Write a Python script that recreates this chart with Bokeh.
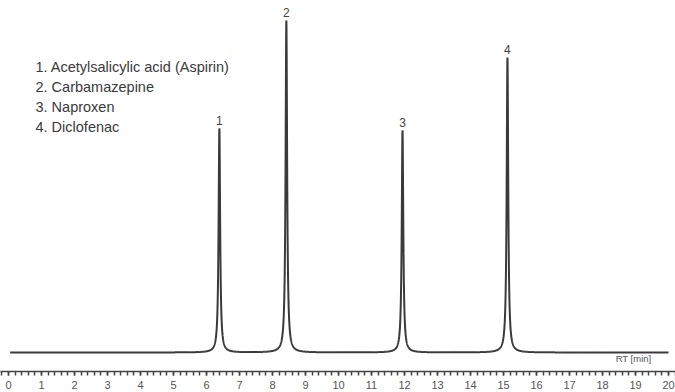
import numpy as np
from bokeh.plotting import figure
from bokeh.models import SingleIntervalTicker, Label
from bokeh.embed import file_html
from bokeh.resources import INLINE
from bokeh.core.properties import value

# Peak table
peak_ids = ["1", "2", "3", "4"]
peak_names = ["Acetylsalicylic acid (Aspirin)", "Carbamazepine", "Naproxen", "Diclofenac"]
retention_times = [6.39, 8.42, 11.94, 15.12]   # min
peak_heights = [224, 332, 222, 295]            # arbitrary detector units
peak_widths = [0.028, 0.028, 0.028, 0.028]     # Lorentzian half-width, min

rt_start, rt_end = 0.05, 20.0

# Build the trace from the peak table
rt = np.linspace(rt_start, rt_end, 12000)
signal = np.zeros_like(rt)
for c, h, w in zip(retention_times, peak_heights, peak_widths):
    signal += h / (1.0 + ((rt - c) / w) ** 2)

p = figure(width=675, height=392, output_backend="svg", toolbar_location=None,
           x_range=(-8 / 33, 20 + 7 / 33), y_range=(-19, 352),
           y_axis_location=None, min_border_left=0, min_border_right=0,
           min_border_top=0, min_border_bottom=21)
p.outline_line_color = None
p.grid.visible = False
p.background_fill_color = "white"
p.border_fill_color = "white"

p.line(rt, signal, line_color="#3a3a3a", line_width=2)

# peak number labels
p.text(x=retention_times, y=[h + 4 for h in peak_heights], text=peak_ids,
       text_align="center", text_baseline="bottom", text_font=value("Liberation Sans"),
       text_font_size="12px", text_color="#444444")

# legend text block
for i, (pid, name) in enumerate(zip(peak_ids, peak_names)):
    p.add_layout(Label(x=35, y=392 - 21 - 66 - 20 * i, x_units="screen", y_units="screen",
                       text=f"{pid}. {name}", text_font="Liberation Sans",
                       text_font_size="14.5px", text_color="#3a3a3a",
                       text_baseline="middle", text_align="left"))

p.add_layout(Label(x=18.94, y=-6, text="RT [min]", text_font="Liberation Sans",
                   text_font_size="9.5px", text_color="#555555",
                   text_align="center", text_baseline="middle"))

ax = p.xaxis[0]
ax.ticker = SingleIntervalTicker(interval=1, num_minor_ticks=5)
ax.axis_line_color = "#444444"
ax.axis_line_width = 1.5
ax.major_tick_line_color = "#444444"
ax.minor_tick_line_color = "#444444"
ax.major_tick_line_width = 1.5
ax.minor_tick_line_width = 1.5
ax.major_tick_in = 0
ax.major_tick_out = 4
ax.minor_tick_in = 0
ax.minor_tick_out = 4
ax.major_label_text_font = "Liberation Sans"
ax.major_label_text_font_size = "11px"
ax.major_label_text_color = "#555555"
ax.major_label_standoff = 5

open("out.html", "w").write(file_html(p, INLINE))
